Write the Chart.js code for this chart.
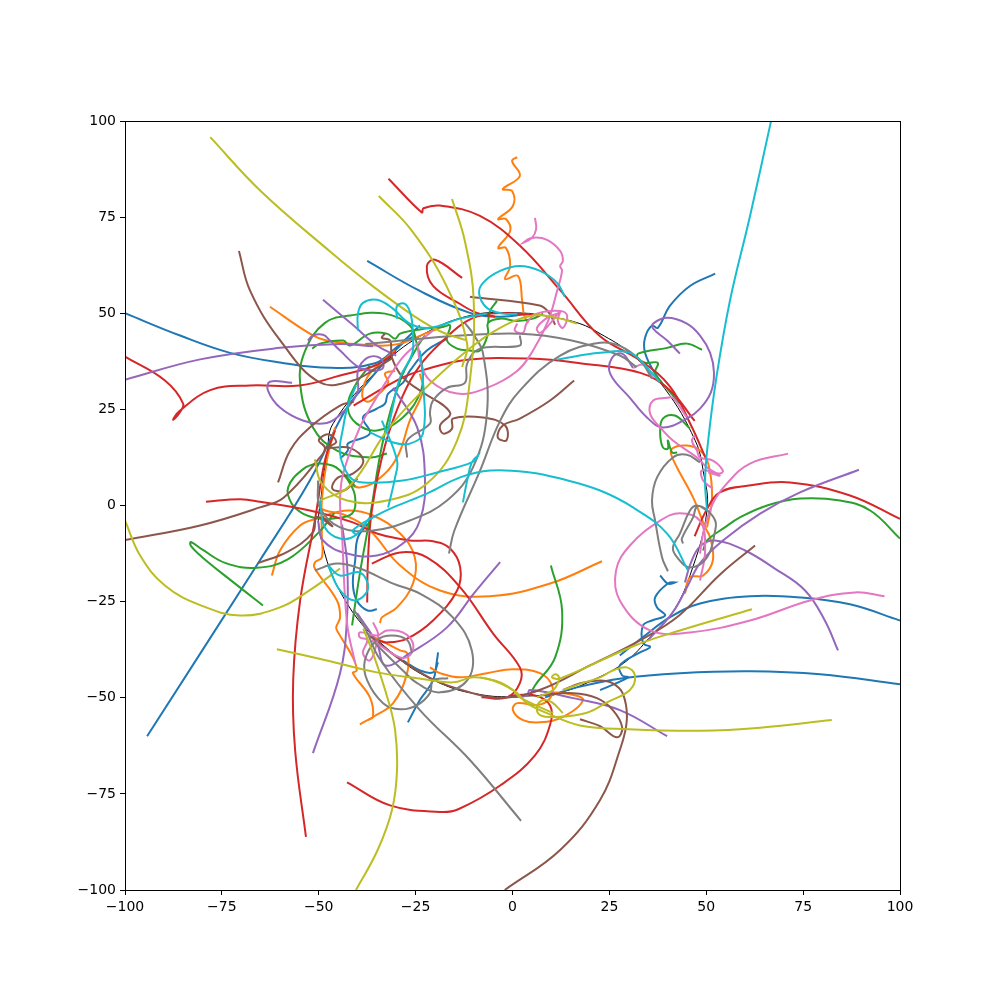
<!DOCTYPE html>
<html>
<head>
<meta charset="utf-8">
<title>Trajectories</title>
<script src="https://cdn.jsdelivr.net/npm/chart.js@4/dist/chart.umd.min.js"></script>
<style>
  html, body { margin: 0; padding: 0; background: #fff; }
  canvas { display: block; }
</style>
</head>
<body>
<canvas id="chart" width="1000" height="1000"></canvas>
<script>
// tick labels
const tickValues = [-100, -75, -50, -25, 0, 25, 50, 75, 100];

const black = [-47.9,13.5, -46.3,21.3, -34.2,35.8, -23.9,44, -11,49.4, 1.2,50.1, 9.7,49.1, 17.4,47.3, 22.6,44.7, 30.3,39.7, 39.3,30.4, 47.1,17, 49.2,9.1, 50.2,-1.3, 45.8,-18.2, 41.2,-28, 36.3,-33.3, 29.6,-40.3, 21.8,-44.9, 12.3,-48.6, 2,-49.6, -7.6,-49.3, -18.7,-46.2, -30.3,-39, -42.7,-25.5, -49.7,-7.3, -49.2,3.9, -47.9,13.5];

const blue1 = [-100,50, -85.8,44.2, -72.9,39.7, -60,37.2, -47.1,35.8, -35.5,37, -30.3,40.8, -23.9,46.8];
const blue2 = [-94.3,-60, -65.2,-14.3, -52.3,6.5, -43.2,24.7, -38.1,31.2, -29,41.6, -25.2,44.2];
const blue3 = [-37.5,63.6, -23.9,55.8, -11,50.1, -3.2,49.1, 4.5,49.9];
const blue4 = [100,-29.9, 87.1,-25.7, 74.2,-23.9, 61.3,-23.6, 48.4,-25.5, 40.6,-29.1, 34.2,-33.8, 27.7,-39];
const blue5 = [38.1,-18.2, 40.1,-20.3, 42,-20, 40.1,-20.3, 36.8,-23.9, 37.3,-26.5, 39.4,-28.6, 36,-29.9, 33.7,-31.2, 33.7,-35.8, 35.5,-36.8, 32.9,-38.2, 27.7,-41.6, 28.3,-44.2, 29.8,-44.7, 22.6,-48];
const blue6 = [100,-46.5, 79.4,-43.9, 61.3,-43.1, 43.2,-43.6, 28.5,-44.9, 16.6,-47.3, 8.4,-49.9];
const blue7 = [52.3,60.3, 45.8,57.1, 40.6,51.9, 37.5,46.2, 36,46.8, 34.2,43.6, 34.2,39.7, 36.8,34.3, 38.6,31.9];
const blue8 = [-35,-27, -37.4,-27.3, -40.2,-24.7, -41.2,-20.3, -40.6,-14.3, -39.9,-8.3, -37.3,-4.7];
const blue9 = [-44.5,12.2, -42.5,14.3, -42.5,16.1, -36.8,18.7, -38.6,22.9, -35,25.2, -32.9,26.5, -32.1,29.1, -28.3,31.9, -26.5,35, -22.1,40.3, -16.9,43.4];
const blue10 = [-27,-56.4, -23.9,-50.6, -20.5,-45.5, -19.5,-40.3, -19.2,-38.2];
const blue11 = [-28.3,-40.3, -23.9,-42.9, -20.5,-43.4, -19.2,-40.8];

const orange1 = [1.2,90.6, -0.1,89.6, 1.9,85.7, -2.5,82.3, -0.1,81.8, 0.1,77.9, -3.7,74.5, -1.7,74.5, -0.6,71.4, -3.7,67, -1.7,67, -0.6,62.3, -1.9,58.9, 1.4,59.7, 2.5,53.2, 3,49.4, 4,47.5];
const orange2 = [-62.6,51.7, -52.3,44.7, -47.9,42.9, -35,41.6, -29,42.1, -22.1,44.9, -17.4,46.8];
const orange3 = [-62.1,-18.2, -60,-11.7, -54.8,-5.2, -50.5,-3.4, -42.7,-1.3, -36,-2.6, -29,-7.3, -25.2,-13.5, -25.7,-20.3, -29.8,-26.5, -33.7,-29.1, -34.2,-30.6];
const orange4 = [-45.8,20.3, -47.9,11.7, -49.2,1.3, -49.2,-8.3, -49.2,-13.5, -51,-14.8, -51,-16.4, -45.3,-24.7, -44.5,-29.1, -45.5,-31.7, -45,-33, -41.2,-39.5, -40.2,-42.9, -41.2,-43.6, -36.8,-49.9, -36,-55, -37.3,-55.8];
const orange5 = [-39.4,-56.9, -36,-55, -30.8,-51.4, -27.2,-43.6, -27.2,-38.4, -29,-37.7, -34.2,-35, -36.3,-34];
const orange6 = [23.1,-14.5, 9.7,-20.3, -5.8,-23.6, -18.7,-22.1, -29,-15.6, -36.8,-6.5, -43,-2.6, -49.7,-0.5, -50,4];
const orange7 = [-30.3,35, -32.9,34.3, -32.1,31.9, -35.5,28.1, -37.5,27, -38.8,28.6, -37.5,33.3, -34.2,36.9, -30.3,40.3];
const orange8 = [-23.9,34.3, -23.1,29.9, -26.5,22.1, -29.8,12.5, -35,6.5, -39.4,4.7, -41.9,5.7, -42.7,7.8];
const orange9 = [-21.3,-42.1, -18.7,-43.6, -13.5,-44.7, -6.6,-43.6, 0.1,-42.6, 7.1,-43.6, 10.2,-46.8, 9.7,-50.1, 6.5,-51.9, 1.2,-51.4, 0.1,-53.2, 2.7,-55.8, 7.1,-56.4, 13,-55, 18.2,-50.6, 14.8,-49.1, 10.5,-48.6];
const orange10 = [44.5,-22.9, 45.8,-18.7, 49.2,-18.2, 51.7,-14.3, 51,-8.3, 49.7,-5.7, 46.6,2.1, 41.2,12.5, 41.2,14.8, 45,15.6, 48.4,14.3, 50.5,10.9, 51.5,2.1, 50.2,-5.7];

const green1 = [-32.4,13.5, -36.8,12.5, -45.3,14.3, -51.5,20.3, -54.8,31.7, -53.5,40.3, -48.4,47.5, -41.9,49.4, -32.9,49.9, -26.5,46.8, -24.7,42.1, -23.1,34.3, -23.9,29.1, -28.3,22.9, -35,19.5, -40.2,21.3, -42.5,25.5, -40.6,31.2, -36.8,36.4];
const green2 = [-51.7,40.8, -49.7,42.1, -43.7,42.9, -41.9,41.6, -36.8,44.7, -32.4,44.7, -30.3,43.4, -29,44.7, -23.9,45.8, -18,46.4, -16.1,46.8, -16.9,42.9, -14.3,40.8, -11,40.3, -8.4,40.3, -6.3,44.7, -6.3,47.5, -3.2,48.6, 1.2,48, 5.3,48.6, 7.9,49.9];
const green3 = [-6.3,47.5, -5.8,50.6, -4,53.2];
const green4 = [-44.5,9.1, -41.9,5.7, -40.6,2.1, -41.4,-2.1, -46.3,-3.4, -50,-3.4, -54.1,-2.1, -57,0.5, -57.9,4.7, -54.1,9.4, -50.2,10.9, -46.5,10.4, -44.5,9.1, -40.6,5];
const green5 = [-64.4,-26, -72,-20, -80,-13.5, -83,-10.5, -83,-9.5, -80,-11.5, -74,-15, -66,-16.2, -58,-14, -50,-7, -46,-2];
const green6 = [9.9,-15.6, 12.8,-27.3, 11,-39.5, 5.8,-46.8, 4.5,-49.4];
const green7 = [-41.4,-31.2, -39.4,-17.7, -36.8,-3.1, -33.4,16.9, -29,32.5, -24.7,41, -22.6,44.2];
const green8 = [100,-8.6, 92.3,-1.3, 84.5,1.3, 74.2,1.8, 65.7,0, 58.7,-3.1, 54.8,-5.7, 50.2,-9.1, 49.2,-11.7];
const green9 = [48.9,40.5, 45,42.1, 39.9,41, 32.4,39.5, 32.4,38.2, 34.2,37.1, 37.5,37.1, 36.8,34.3, 39.9,30.4, 43.2,26.5];
const green10 = [45.8,20, 41.9,23.4, 38.8,22.6, 38.1,19, 38.8,15.1, 40.1,14.8, 40.1,16.9, 41.2,13.8, 42.5,13.8];

const red1 = [100,-3.5, 87.1,2.6, 71.6,6, 61,5.2, 53.5,3.4, 50,-1.3, 47,-8];
const red2 = [-32,85, -23.4,76.2, -23,77.3, -18.7,78, -8.4,75.3, 2,67.5, 12.3,56, 22.6,44, 33,37.7, 40.6,31, 46,21, 50,12];
const red3 = [-13,59.2, -20,63.9, -22.1,62.3, -20.5,57.1, -13.5,52.4, -9.2,50.1, -4.5,49.1];
const red4 = [-53.3,-86.2, -56.1,-63.6, -56.6,-45.5, -54.8,-24.7, -51,-3.9, -48.4,11.7, -45.8,19.5];
const red5 = [-79.1,1, -70.3,1.6, -65.2,1, -52.3,-1.3, -41.2,-4.4, -35,-7.3, -26.5,-9.1, -20.5,-9.3, -16.1,-11.2, -13.5,-16.1, -14.3,-22.1, -20.5,-29.9, -27.2,-34.6, -32.4,-35.6, -35,-35];
const red6 = [-36.3,-15.1, -29,-12.2, -22.1,-13.5, -13.5,-21.3, -5,-33.3, 1.9,-42.1, 1.9,-46.2, -1.4,-49.9, -8,-49.9];
const red7 = [-37.5,-25.2, -37.3,-14.3, -36.3,-1.3, -32.9,15.6, -28.3,28.6, -23.9,36.4, -17.9,42.9, -11.7,48, -5.8,49.9, 1.2,49.9, 7.1,49.4];
const red8 = [-100,38.7, -89.7,32.5, -85,26.5, -86,24, -87.6,22.3, -86,24.5, -78,30, -67.7,31.2, -55,31.2, -44.5,33.8, -35.5,36.4, -30,40];
const red9 = [-41,26, -28.3,33.3, -22.1,35.5, -11.7,37.9, 4.5,38.2, 17.4,37, 33,34.5, 40.6,30, 47,22];
const red10 = [-42.7,-72, -31.6,-78, -18.7,-79.7, -14,-79, -3,-72.7, 5.8,-65, 9.7,-57, 9.7,-52, 5.8,-49.4, -1,-49.5];

const purple1 = [-100,32.7, -80.6,38, -60,41, -44.5,42, -36,41.4];
const purple2 = [-56.9,31.9, -62.6,32.2, -63.1,29.9, -60,25.5, -54.1,22.1, -48.9,21.3, -45.3,22.9, -40.1,29.1, -39.9,35, -37.5,38.4, -34.2,38.4, -33.4,35.8, -36,35, -38.6,35.6];
const purple3 = [-48.9,53.5, -41,46.8, -35,41.6, -30,39];
const purple4 = [-52.8,42.9, -51.5,44.2, -48.9,44.4, -47.1,42.9, -44.5,40.3, -39.4,35.8, -35,35];
const purple5 = [-51.5,-64.4, -44.5,-43.6, -42.7,-29.1, -42.7,-15, -44,-5];
const purple6 = [-30.8,30.6, -24.6,20.3, -22.6,7.3, -23.9,-3.9, -28.3,-9.9, -35,-13, -42.7,-12.5, -48.9,-9.1, -50.2,-3.9];
const purple7 = [-3.2,-14.7, -10,-22.9, -16.9,-31.7, -26.5,-38.4, -32.8,-41.6, -35,-35.8, -40.1,-28];
const purple8 = [43.2,39.5, 39.9,42.9, 36.3,46, 36.3,47.3, 39.9,48.8, 45,47.3, 48.4,44.2, 51,39.7, 52,34.5, 51.2,29.4, 48.4,25.2, 45,22.6, 38.8,20.3, 34.7,22.9, 30.3,28, 25.2,34.3, 25.7,38.4, 28.3,39.5, 31.1,35.8];
const purple9 = [89.4,9.3, 74.2,3.4, 63.9,-2.1, 54.3,-9.1, 48.4,-15, 45,-21.3, 41.2,-28, 35,-35];
const purple10 = [84,-37.7, 80.6,-29.9, 75.5,-22.1, 67.7,-16.4, 60,-11.7, 52.3,-9.1, 48.5,-10.5, 46,-15, 44.5,-20];
const purple11 = [39.9,-60, 27.7,-53.2, 15.6,-50.1, 4.5,-48, 3.7,-49.4, -1.9,-49.9];

const brown1 = [-70.6,66.2, -67.7,55.8, -60,43, -49.7,32, -41.2,32.5, -35,35.8, -31,38.4];
const brown2 = [-60.5,6, -57.4,14.3, -52.3,20.3, -44.5,26, -41,27];
const brown3 = [-100,-9, -80.6,-5.2, -65.2,-0.5, -59,2.1, -49.7,12.5, -48.4,15, -50,17, -47.5,18.5, -45.5,16.5, -48,15, -42,15, -38.5,11.7, -41.2,8.3, -45,7.3, -46.5,4.4, -43.5,3.9, -40,7];
const brown4 = [-65.7,-15, -58,-12, -51.5,-7, -50.5,-3, -46.5,-5.4, -49,-3];
const brown5 = [-2,-100, 12.3,-89.6, 22.6,-76.6, 27.7,-63.6, 29.5,-55.8, 28.5,-49, 25.8,-46.2, 22.6,-45.5, 17.5,-46.2, 13,-48];
const brown6 = [17.4,-55.6, 22.6,-57.4, 27,-60.3, 28.3,-57.7, 25.9,-53.2, 21.8,-50.1, 15.6,-48.8, 7.1,-49.4];
const brown7 = [62.6,-10.4, 53.5,-18, 43,-28.6, 33,-35, 20,-41.6, 7,-48, -3,-50, -11,-48.6, -20,-45.5, -29,-40, -37,-33.8];
const brown8 = [15.9,32.5, 9.7,27.3, 1.9,22.6, -2.5,20.8, -3.8,17.7, -1.5,17, -1.9,20.8, -7.6,22.9, -15.4,22.6, -15.6,20, -17.9,18.7, -18.7,20.8, -16.1,24.2, -23.9,29.9, -28.3,33.3, -31.1,38.4, -31.6,42.9, -33.7,43.6, -32.9,44.7];
const brown9 = [-11,54.3, 7,52, 9.5,50, 11,47];

const pink1 = [5.8,74.8, 6.1,71.9, 5,69.6, 2.7,68.3, 5,69.6, 8.9,69.1, 12.3,66.2, 13,63.6, 12.3,62.3, 12.8,61, 11.5,55.8, 9.2,48, 5.3,40.3, 1.2,35, -6.6,30.6, -14.3,29.1, -21.3,32.5, -23.9,37.7, -24.4,41.6];
const pink2 = [1.2,47.3, 0.6,45.5, 2.7,44.9, 3.7,47.5, 6.3,49.9, 12.3,50.6, 14.1,49.4, 13,46.2, 11.7,48, 12.3,50.6, 9.7,47.3, 7.1,44.9, 6.3,46.2, 8.9,48.8, 11.5,49.9];
const pink3 = [71.1,13.5, 61.3,10.9, 55.3,5.7, 51.7,0.5, 49.2,-7.3, 48.4,-12.5];
const pink4 = [51.7,4.4, 49.2,6.5, 48.9,9.1, 53.5,8.3, 54.3,9.1, 51.7,11.7, 48.4,12.5, 47.6,14.3, 46.3,16.9, 47.1,18.2];
const pink5 = [45,22.9, 41.4,28, 39.9,28, 36.3,27.3, 35.5,23.9, 38.1,20.3, 41.4,16.9, 47.6,12.5, 50.2,9.9, 53.5,7.8, 50.5,8.6];
const pink6 = [96,-23.6, 88.4,-22.6, 76.8,-24.7, 61.3,-29.9, 45.8,-33, 35.5,-32.5, 27.7,-24.7, 26.7,-17, 30.3,-10.4, 38,-4, 43.2,-2, 48.4,-4, 49.7,-11.7, 48.4,-19.5];
const pink7 = [-36,-30.4, -34.7,-33.3, -35,-35.8, -36.8,-40.3, -38.6,-38.4, -37.5,-35, -39.4,-34.3, -39.4,-33, -35,-33.8, -32.4,-32.5, -28.3,-33, -25.7,-35.8, -26.5,-39, -29,-39.5, -33.4,-36.9, -36.3,-35];
const pink8 = [-40.6,-41, -42.7,-30.6, -44,-7.3, -44.5,1.3, -43.7,8.3, -39.4,20.3, -36,26.5, -29,37.7, -24.6,42.1, -20.5,45.5];
const pink9 = [31.1,35.8, 33.7,36.6, 36.3,33.2];

const gray1 = [2.2,-82, -11,-66.2, -23.9,-53.2, -34.2,-40, -38,-32, -41,-27];
const gray2 = [-16.4,-12.5, -15,-6.5, -8.4,9, -3.2,22, 2,30, 12.3,39, 22.6,42.3, 27.7,41.5, 33,37.7, 36,33];
const gray3 = [-38,42, -16,44, 2,44.7, 15,43, 27.7,39, 32,36];
const gray4 = [-27.2,12.5, -27.2,16.9, -21.3,21.3, -21.3,24.2, -20.5,27.3, -16.9,30.6, -12.3,31.9, -11.7,36.9, -8.4,40.8, 1.9,41.6, 1.9,44.2];
const gray5 = [-50.2,6.5, -49.7,-0.5, -44.5,-5.7, -36,-6.5, -26.5,-3.9, -16.9,1.3, -10.2,9.9, -6.6,23.9, -7.6,39.5, -10.2,44.7, -12.3,47.5];
const gray6 = [-51,-16.9, -45.3,-15.1, -39.4,-16.4, -30.8,-20.3, -23.9,-22.9, -15.4,-29.1, -10.5,-37.7, -11.7,-45.5, -18.7,-48.6, -24.6,-46.2, -28.3,-42.9, -35.5,-35.8];
const gray7 = [-16.6,-44.9, -20.5,-45.5, -21.3,-48.8, -24.6,-51.9, -29,-53, -33.4,-51.4, -37.5,-45.5, -38.1,-40.3, -35,-35, -31.1,-33.8, -27.2,-35, -25.9,-38.4];
const gray8 = [40.1,-17.1, 38.6,-13.5, 36.8,-3.9, 36,1.3, 37.3,7.3, 41.4,12.5, 45,13.2, 48.4,11.2];
const gray9 = [44,-9.9, 43.7,-8.6, 46.6,-3.1, 47.6,-0.3, 49.7,-0.8, 52.3,-3.9, 52.3,-6.5, 50.2,-13.5, 45.8,-16.1, 42.5,-13.5, 41.4,-10.9, 43.2,-7.3, 45.8,-1.3, 47.6,0, 50.2,-1.3];

const olive1 = [-78,95.8, -65,81.8, -47,66, -36,57, -25,49, -18,45, -12,43];
const olive2 = [-34.5,80.5, -26,71.5, -17,57, -11.7,42, -13,36];
const olive3 = [-15.6,79.7, -12.3,68.8, -10,53, -11,32.5, -14.3,16.9, -22.1,5.7, -32.4,1.3, -42.7,1.3, -49.2,5.7, -51,12];
const olive4 = [-100,-3.9, -96.1,-13, -89.7,-20.8, -80.6,-25.9, -70.3,-28.6, -60,-26.5, -52.3,-22, -44.5,-16.4];
const olive5 = [-60.8,-37.4, -47.9,-40.3, -35,-43.4, -24.6,-44.9, -15.4,-46, -10.2,-44.7, -5,-45.5, 0.1,-48, 1.9,-49.9, 10.5,-54];
const olive6 = [-40.4,-100, -34.8,-89.6, -31.1,-79.2, -29.8,-68.8, -30.3,-58.4, -32.1,-50.6, -36,-38.4, -38.5,-32];
const olive7 = [82.4,-55.8, 63.9,-57.8, 48.4,-58.6, 30,-58.2, 17.4,-57.2, 8.9,-54, 3.7,-51.4, 1.2,-48.8, -3.2,-46, -8.4,-44.7];
const olive8 = [61.8,-27, 43.2,-32.5, 31.6,-36.4, 12.3,-45, 10.2,-44.7, 11,-43.9, 12,-44.7, 11.7,-46.2, 10.5,-48, 6.3,-49.9];
const olive9 = [13,-48, 18,-46.2, 22.6,-44.7, 25.9,-42.9, 29.5,-42.1, 31.6,-44.2, 30.3,-48, 24.4,-51.2, 19.2,-53.9, 11.5,-55, 7.1,-54.5, 6.3,-52.4, 7.9,-50.6, 10.2,-51.2, 13,-54];
const olive10 = [-49.7,1.3, -41.9,5.2, -32.4,19.5, -23.9,29.1, -11.7,40.3, -3.2,46.2, 5.3,49.4, 11.5,48.8, 16.6,47.3];

const cyan1 = [66.7,99.9, 61.3,75.3, 56.1,53.2, 52.5,32.5, 50.5,16.9, 49.7,6.5, 50.2,-1.3];
const cyan2 = [45.3,-16.9, 39.9,-7.3, 31.1,-0.5, 22.6,3.9, 12.3,7, 4.5,8.6, -5.8,9.1, -13.5,7.3, -22.1,3.1, -30.8,-0.5, -36,-3.1, -41.2,-6.5, -40.2,-7.8];
const cyan3 = [-12.8,0.8, -11.7,6.5, -10.5,11.2, -8.9,13, -10.5,11.2, -19.5,8.6, -28.3,6.5, -38.6,6, -41.9,7.3, -44.5,13.5, -43.7,20.3, -42.5,25.9, -40.4,31.2];
const cyan4 = [13.5,54.3, 11.5,57.9, 7.1,61, 1.9,62.3, -3.2,61, -7.6,57.9, -8.6,55, -6.6,51.4, -2.5,49.9, 1.2,49.9];
const cyan5 = [-39.9,45.5, -39.9,49.9, -38.6,52.7, -35,53.5, -31.1,51.4, -26.5,47.3, -21.3,46.2, -13.5,48.6, -6.6,49.9];
const cyan6 = [-29.8,48.6, -29.8,51.9, -27.7,52.4, -26.2,49.4, -25.7,44.2, -25.9,39.5, -29,33.3, -31.1,24.7, -32.1,19.5];
const cyan7 = [-33.7,22.1, -29.8,11.7, -30.3,7.3, -32.1,-0.5];
const cyan8 = [-36.8,19, -30.8,16.4, -26.5,16.1, -23.1,18.7, -23.1,32.5, -23.9,40.3];
const cyan9 = [-49.7,1.3, -48.4,-5.7, -44.5,-8.6, -40.6,-7.8, -36.8,-3.1];
const cyan10 = [-47.6,-15.6, -44.5,-18.2, -39.4,-17.4, -37.3,-21.6, -40.6,-24.7, -44.5,-22.1, -47.6,-15.6];
const cyan11 = [11.7,38, 22.6,39.7, 30.3,39.7, 35.5,35, 38,32];

const groups = [
  ['#1f77b4', [blue1, blue2, blue3, blue4, blue5, blue6, blue7, blue8, blue9, blue10, blue11]],
  ['#ff7f0e', [orange1, orange2, orange3, orange4, orange5, orange6, orange7, orange8, orange9, orange10]],
  ['#2ca02c', [green1, green2, green3, green4, green5, green6, green7, green8, green9, green10]],
  ['#d62728', [red1, red2, red3, red4, red5, red6, red7, red8, red9, red10]],
  ['#9467bd', [purple1, purple2, purple3, purple4, purple5, purple6, purple7, purple8, purple9, purple10, purple11]],
  ['#8c564b', [brown1, brown2, brown3, brown4, brown5, brown6, brown7, brown8, brown9]],
  ['#e377c2', [pink1, pink2, pink3, pink4, pink5, pink6, pink7, pink8, pink9]],
  ['#7f7f7f', [gray1, gray2, gray3, gray4, gray5, gray6, gray7, gray8, gray9]],
  ['#bcbd22', [olive1, olive2, olive3, olive4, olive5, olive6, olive7, olive8, olive9, olive10]],
  ['#17becf', [cyan1, cyan2, cyan3, cyan4, cyan5, cyan6, cyan7, cyan8, cyan9, cyan10, cyan11]],
];

const toPoints = flat => {
  const pts = [];
  for (let i = 0; i < flat.length; i += 2) pts.push({ x: flat[i], y: flat[i + 1] });
  return pts;
};

const datasets = [{ data: toPoints(black), borderColor: '#000', borderWidth: 1, tension: 0.4 }];
groups.forEach(([color, paths]) => {
  paths.forEach(p => datasets.push({ data: toPoints(p), borderColor: color, borderWidth: 2, tension: 0.4 }));
});
// later paths sit on top, as in the reference
datasets.forEach((d, i) => {
  d.order = datasets.length - i;
  d.showLine = true;
  d.pointRadius = 0;
  d.fill = false;
});

const minusLabel = v => String(v).replace('-', '\u2212');
const axisOpts = {
  type: 'linear', min: -100, max: 100,
  afterBuildTicks: s => { s.ticks = tickValues.map(value => ({ value })); },
  ticks: { color: '#000', font: { family: 'DejaVu Sans', size: 14 }, padding: 4, maxRotation: 0, autoSkip: false, callback: minusLabel },
  grid: { drawOnChartArea: false, drawTicks: true, tickLength: 5, tickWidth: 1, tickColor: '#000' },
  border: { color: '#000', width: 1 },
};

const frame = {
  id: 'frame',
  afterDraw(c) {
    const { left, right, top, bottom } = c.chartArea;
    const g = c.ctx;
    g.save();
    g.strokeStyle = '#000'; g.lineWidth = 1;
    g.strokeRect(left + 0.5, top + 0.5, right - left, bottom - top);
    g.restore();
  },
};

new Chart(document.getElementById('chart'), {
  type: 'scatter',
  data: { datasets },
  options: {
    responsive: false, animation: false,
    layout: { padding: { top: 121, right: 100, left: 0, bottom: 0 } },
    plugins: { legend: { display: false }, tooltip: { enabled: false } },
    scales: {
      x: { ...axisOpts, afterFit: s => { s.height = 110; } },
      y: { ...axisOpts, afterFit: s => { s.width = 125; } },
    },
  },
  plugins: [frame],
});
</script>
</body>
</html>
